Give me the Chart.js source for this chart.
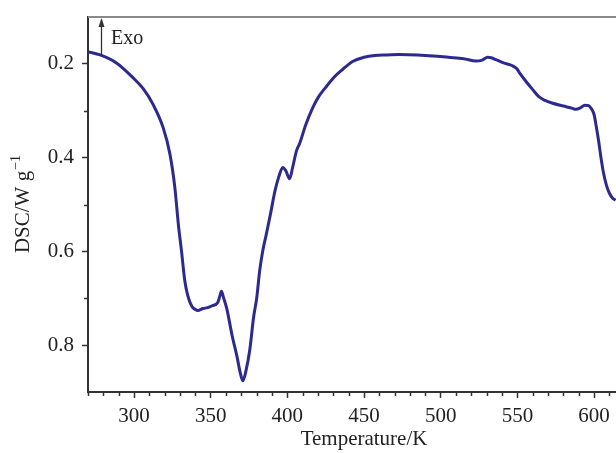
<!DOCTYPE html>
<html>
<head>
<meta charset="utf-8">
<script src="https://cdn.jsdelivr.net/npm/chart.js@4.4.1/dist/chart.umd.min.js"></script>
<style>
    html, body { margin: 0; padding: 0; background: #fff; overflow: hidden; }
    #wrap { width: 616px; height: 453px; position: relative; }
</style>
</head>
<body>
<div id="wrap"><canvas id="dscChart"></canvas></div>
<script>
// DSC curve (K, W/g)
const temperature = [
    270, 278, 289, 299.5, 306, 312.5, 319, 323.4, 326.6, 329, 331, 333, 335, 337.7, 340, 341.6,
    345, 348, 351, 354.6, 356, 357, 358.5, 360.5, 364, 367, 369.5, 371, 373, 375.5, 378, 380,
    382, 384, 386.5, 389, 392, 394.5, 397, 399, 401.5, 403.5, 406, 408, 412, 416.5, 420, 425,
    430, 436, 442.5, 450, 457, 465, 473, 485, 495, 505, 515, 523, 527, 530.6, 533, 536,
    541, 546.8, 549.5, 552, 555, 560, 564, 568, 573, 580, 586, 588, 591, 594, 596.5, 598.5,
    600, 601.5, 603, 604.5, 606, 608, 610, 612, 614
];
const dsc = [
    0.174, 0.181, 0.199, 0.230, 0.253, 0.287, 0.336, 0.392, 0.463, 0.545, 0.600, 0.660, 0.694, 0.717, 0.724, 0.726,
    0.722, 0.720, 0.716, 0.709, 0.695, 0.685, 0.700, 0.722, 0.780, 0.822, 0.862, 0.876, 0.855, 0.810, 0.740, 0.700,
    0.640, 0.598, 0.560, 0.520, 0.470, 0.440, 0.421, 0.428, 0.445, 0.420, 0.385, 0.370, 0.330, 0.294, 0.272, 0.250,
    0.230, 0.212, 0.195, 0.186, 0.182, 0.181, 0.180, 0.181, 0.183, 0.186, 0.189, 0.194, 0.192, 0.186, 0.187, 0.191,
    0.198, 0.204, 0.210, 0.222, 0.235, 0.255, 0.270, 0.278, 0.284, 0.290, 0.295, 0.297, 0.294, 0.288, 0.289, 0.297,
    0.308, 0.335, 0.365, 0.400, 0.430, 0.458, 0.476, 0.486, 0.491
];

// Axis setup
const xMin = 270, xMax = 614.3;
const yMin = 0.1, yMax = 0.9;
const xTickLabels = [300, 350, 400, 450, 500, 550, 600];
const yTickLabels = [0.2, 0.4, 0.6, 0.8];
const xTitle = 'Temperature/K';
const yTitle = 'DSC/W g';
const yTitleSup = '\u22121';

// Exo arrow annotation (data units)
const exoX = 278.5;
const exoFrom = 0.182;
const exoText = 'Exo';
const exoTextX = 285;
const exoTextY = 0.157;

const axisColor = '#333';
const lineColor = '#2c2a8e';
const serif = "'Liberation Serif', 'Times New Roman', serif";

Chart.defaults.font.family = serif;
Chart.defaults.font.size = 21;
Chart.defaults.color = '#222';

function isLabelled(list, v) {
    return list.some(t => Math.abs(t - v) < 1e-6);
}

// fixed axis sizes, no extra label padding
function fixSize(scale, w, h) {
    if (w) scale.width = w;
    if (h) scale.height = h;
    scale.paddingTop = 0;
    scale.paddingBottom = 0;
    scale.paddingLeft = 0;
    scale.paddingRight = 0;
}

// extras: top frame line, minor ticks, axis titles, Exo arrow
const extras = {
    id: 'extras',
    afterDraw(chart) {
        const ctx = chart.ctx;
        const area = chart.chartArea;
        const xs = chart.scales.x, ys = chart.scales.y;
        ctx.save();

        // top frame
        ctx.strokeStyle = '#8a8a8a';
        ctx.lineWidth = 2;
        ctx.beginPath();
        ctx.moveTo(area.left, area.top);
        ctx.lineTo(area.right, area.top);
        ctx.stroke();

        // minor ticks
        ctx.strokeStyle = axisColor;
        ctx.lineWidth = 1.5;
        ctx.beginPath();
        xs.ticks.forEach(t => {
            if (isLabelled(xTickLabels, t.value)) return;
            const px = Math.round(xs.getPixelForValue(t.value)) + 0.5;
            ctx.moveTo(px, area.bottom);
            ctx.lineTo(px, area.bottom + 4);
        });
        ys.ticks.forEach(t => {
            if (isLabelled(yTickLabels, t.value)) return;
            if (Math.abs(t.value - yMin) < 1e-6 || Math.abs(t.value - yMax) < 1e-6) return;
            const py = Math.round(ys.getPixelForValue(t.value)) + 0.5;
            ctx.moveTo(area.left - 4, py);
            ctx.lineTo(area.left, py);
        });
        ctx.stroke();

        // x title, centred under 450
        ctx.fillStyle = '#222';
        ctx.font = '21px ' + serif;
        ctx.textAlign = 'center';
        ctx.textBaseline = 'alphabetic';
        ctx.fillText(xTitle, xs.getPixelForValue(450), 445);

        // y title with superscript, rotated
        ctx.save();
        ctx.translate(29, (area.top + area.bottom) / 2);
        ctx.rotate(-Math.PI / 2);
        ctx.font = '21px ' + serif;
        const w1 = ctx.measureText(yTitle).width;
        ctx.font = '14px ' + serif;
        const w2 = ctx.measureText(yTitleSup).width;
        const start = -(w1 + w2) / 2;
        ctx.textAlign = 'left';
        ctx.font = '21px ' + serif;
        ctx.fillText(yTitle, start, 0);
        ctx.font = '14px ' + serif;
        ctx.fillText(yTitleSup, start + w1 + 1, -9);
        ctx.restore();

        // Exo arrow
        const ax = Math.round(xs.getPixelForValue(exoX)) + 0.5;
        const ay0 = ys.getPixelForValue(exoFrom);
        const ay1 = area.top + 1;
        ctx.strokeStyle = axisColor;
        ctx.lineWidth = 1.3;
        ctx.beginPath();
        ctx.moveTo(ax, ay0);
        ctx.lineTo(ax, ay1 + 2);
        ctx.stroke();
        ctx.fillStyle = axisColor;
        ctx.beginPath();
        ctx.moveTo(ax, ay1);
        ctx.lineTo(ax - 3, ay1 + 9);
        ctx.lineTo(ax + 3, ay1 + 9);
        ctx.closePath();
        ctx.fill();

        ctx.fillStyle = '#222';
        ctx.font = '20px ' + serif;
        ctx.textAlign = 'left';
        ctx.fillText(exoText, xs.getPixelForValue(exoTextX), ys.getPixelForValue(exoTextY));

        ctx.restore();
    }
};

const points = temperature.map((t, i) => ({ x: t, y: dsc[i] }));

new Chart(document.getElementById('dscChart'), {
    type: 'line',
    data: {
        datasets: [{
            label: 'DSC',
            data: points,
            borderColor: lineColor,
            borderWidth: 3,
            pointRadius: 0,
            fill: false,
            cubicInterpolationMode: 'monotone'
        }]
    },
    options: {
        responsive: true,
        maintainAspectRatio: false,
        animation: false,
        layout: { padding: { top: 17, right: 0, left: 0, bottom: 0 } },
        plugins: {
            legend: { display: false },
            tooltip: { enabled: false }
        },
        scales: {
            x: {
                type: 'linear',
                min: xMin,
                max: xMax,
                afterFit: (scale) => fixSize(scale, 0, 61),
                border: { display: true, color: axisColor, width: 2 },
                grid: {
                    drawOnChartArea: false,
                    drawTicks: true,
                    tickLength: 6,
                    tickWidth: 1.5,
                    tickColor: (c) => isLabelled(xTickLabels, c.tick.value) ? axisColor : 'rgba(0,0,0,0)'
                },
                ticks: {
                    stepSize: 10,
                    includeBounds: false,
                    autoSkip: false,
                    maxRotation: 0,
                    padding: 6,
                    callback: (v) => isLabelled(xTickLabels, v) ? String(Math.round(v)) : ''
                },
                title: { display: false }
            },
            y: {
                type: 'linear',
                reverse: true,
                min: yMin,
                max: yMax,
                afterFit: (scale) => fixSize(scale, 88, 0),
                border: { display: true, color: axisColor, width: 2 },
                grid: {
                    drawOnChartArea: false,
                    drawTicks: true,
                    tickLength: 6,
                    tickWidth: 1.5,
                    tickColor: (c) => isLabelled(yTickLabels, c.tick.value) ? axisColor : 'rgba(0,0,0,0)'
                },
                ticks: {
                    stepSize: 0.1,
                    autoSkip: false,
                    padding: 8,
                    callback: (v) => isLabelled(yTickLabels, v) ? v.toFixed(1) : ''
                },
                title: { display: false }
            }
        }
    },
    plugins: [extras]
});
</script>
</body>
</html>
